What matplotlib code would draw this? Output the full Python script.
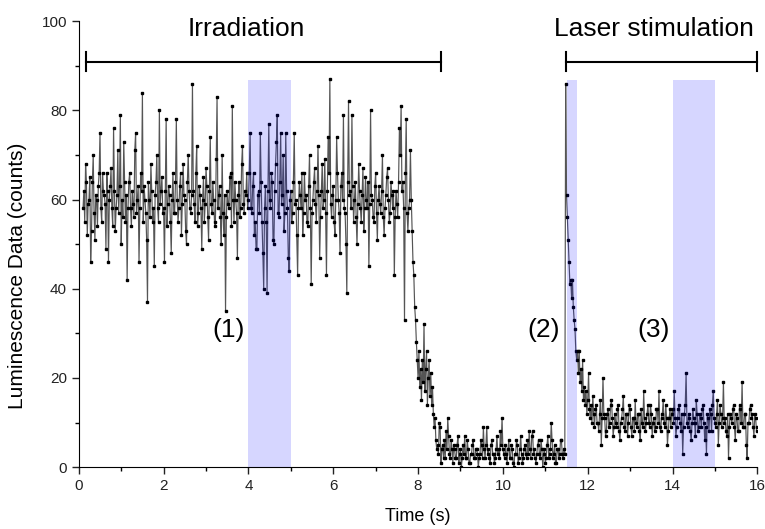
import numpy as np
import matplotlib.pyplot as plt
from matplotlib import font_manager

names = {f.name for f in font_manager.fontManager.ttflist}
narrow = 'Liberation Sans Narrow' if 'Liberation Sans Narrow' in names else 'Liberation Sans'
plt.rcParams['font.family'] = ['Liberation Sans', 'DejaVu Sans']

# sampling grid (s)
t_start = 0.10
dt = 0.02

# counts
irr_a = [58, 62, 55, 68, 64, 52, 59, 60, 65, 46,
         53, 64, 70, 57, 51, 61, 60, 54, 63, 66,
         75, 58, 55, 66, 62, 61, 59, 49, 66, 62,
         46, 60, 63, 67, 58, 54, 76, 62, 53, 58,
         61, 71, 57, 63, 79, 50, 60, 56, 73, 64,
         55, 61, 42, 58, 64, 66, 58, 54, 62, 59,
         56, 71, 75, 57, 60, 63, 46, 58, 66, 62,
         84, 55, 63, 60, 57, 51, 37, 64, 60, 56,
         68, 62, 55, 58, 45, 61, 64, 70, 58, 55,
         80, 59, 62, 65, 57, 58, 46, 62, 78, 54,
         59, 63, 61, 55, 48, 60, 66, 57, 57, 64,
         78, 60, 55, 58, 63, 66, 52, 59, 68, 61,
         60, 53, 50, 64, 70, 62, 58, 57, 61, 86,
         62, 59, 55, 66, 72, 54, 57, 63, 61, 58,
         49, 60, 65, 55, 59, 67, 63, 56, 51, 62,
         74, 59, 57, 64, 60, 55, 54, 69, 83, 58,
         61, 63, 56, 50, 70, 57, 52, 61, 35, 56,
         62, 59, 58, 65, 66, 54, 81, 60, 55, 64,
         60, 57, 47, 61, 64, 56, 58, 68, 72, 59,
         57, 62, 61, 66, 58]
irr_shade = [60, 66, 75, 58, 57, 63, 66, 52, 55, 49,
             49, 61, 62, 57, 75, 64, 55, 48, 40, 58,
             63, 55, 39, 62, 77, 60, 58, 66, 64, 51,
             50, 62, 68, 73, 79, 57, 56, 64, 75, 59,
             61, 70, 53, 57, 75, 62, 58, 47, 44, 60]
irr_b = [62, 55, 57, 64, 75, 59, 60, 52, 43, 58,
         64, 61, 58, 66, 52, 57, 66, 60, 61, 55,
         54, 63, 70, 58, 41, 57, 60, 64, 67, 59,
         55, 62, 72, 61, 47, 56, 62, 68, 58, 60,
         69, 57, 43, 62, 74, 66, 87, 59, 56, 61,
         63, 55, 52, 60, 74, 66, 60, 57, 48, 63,
         66, 60, 79, 58, 57, 50, 39, 64, 82, 61,
         62, 58, 79, 63, 55, 60, 64, 56, 50, 59,
         68, 62, 58, 55, 61, 67, 53, 58, 65, 60,
         58, 64, 45, 59, 80, 61, 60, 56, 55, 63,
         66, 57, 51, 60, 63, 59, 57, 62, 70, 56,
         52, 58, 61, 65, 67, 60, 55, 57, 64, 61,
         58, 62, 43, 56, 62, 59, 56, 64, 76, 70,
         81, 62, 64, 58, 33, 66, 78, 57, 53, 58,
         60]
fall = [71, 60, 53, 46, 43, 36, 33, 28, 24, 20,
        26, 18, 22, 15, 24, 19, 32, 17, 22, 26,
        14, 20, 24, 16, 21, 14, 18, 12, 9, 11,
        6, 4]
dark = [5, 3, 10, 9, 1, 4, 5, 2, 6, 2,
        8, 4, 11, 7, 3, 2, 6, 4, 1, 5,
        4, 2, 2, 5, 7, 1, 3, 4, 0, 2,
        5, 3, 7, 2, 2, 6, 4, 1, 1, 3,
        3, 5, 6, 2, 2, 4, 4, 3, 0, 2,
        3, 6, 5, 2, 9, 4, 2, 5, 9, 3,
        4, 2, 1, 5, 6, 3, 3, 1, 2, 4,
        7, 3, 4, 2, 8, 5, 11, 4, 3, 2,
        5, 3, 1, 4, 6, 2, 2, 5, 4, 1,
        0, 3, 3, 6, 5, 1, 2, 4, 7, 3,
        1, 2, 4, 5, 3, 2, 6, 3, 8, 4,
        2, 7, 8, 3, 4, 2, 1, 3, 5, 6,
        3, 2, 6, 4, 0, 3, 4, 1, 2, 5,
        7, 2, 3, 4, 10, 6, 2, 3, 5, 1,
        1, 4, 4, 2, 3, 6, 6, 3, 2, 4,
        3]
laser = [86, 61, 56, 51, 46, 41, 42, 38, 42, 36,
         33, 31, 26, 24, 26, 21, 26, 19, 22, 17,
         24, 15, 18, 14, 17, 12, 15, 21, 13, 11,
         14, 10, 16, 12]
tail = [9, 13, 14, 10, 10, 8, 12, 15, 5, 11,
        20, 12, 11, 7, 8, 12, 13, 9, 10, 14,
        15, 11, 7, 9, 12, 10, 9, 13, 14, 8,
        6, 10, 11, 13, 16, 9, 8, 12, 12, 7,
        10, 14, 13, 9, 7, 11, 11, 8, 15, 10,
        9, 12, 12, 8, 6, 13, 10, 9, 17, 11,
        8, 10, 12, 14, 10, 9, 14, 12, 7, 10,
        11, 8, 9, 13, 13, 10, 17, 9, 8, 11,
        12, 15, 10, 9, 14, 11, 5, 8, 11, 13,
        9, 12, 13, 10, 17, 11, 7, 9, 11, 13,
        14, 10, 8, 12, 3, 9, 12, 14, 21, 10,
        9, 12, 11, 8, 6, 10, 13, 11, 10, 7,
        15, 12, 8, 9, 12, 11, 9, 13, 14, 10,
        6, 9, 3, 12, 11, 8, 13, 12, 8, 14,
        17, 11, 10, 9, 12, 15, 5, 10, 14, 12,
        9, 11, 19, 10, 11, 8, 7, 12, 2, 9,
        12, 11, 10, 13, 14, 9, 6, 12, 11, 8,
        8, 14, 13, 10, 19, 9, 9, 12, 12, 5,
        2, 10, 10, 13, 14, 11, 12, 9, 7, 12,
        11, 8, 9]

counts = np.array(irr_a + irr_shade + irr_b + fall + dark + laser + tail)
t = t_start + dt * np.arange(len(counts))

# analysed windows and labels
shade_spans = [(4.0, 5.0), (11.5, 11.75), (14.0, 15.0)]
brackets = [(0.17, 8.54, 3.96, 'Irradiation'), (11.49, 16.0, 13.55, 'Laser stimulation')]
marks = [(3.54, '(1)'), (10.97, '(2)'), (13.55, '(3)')]

fig = plt.figure(figsize=(7.65, 5.29), dpi=100)
ax = fig.add_axes([0.103, 0.117, 0.887, 0.843])

ax.plot(t, counts, color='#555555', lw=0.85, marker='s', ms=1.9,
        mfc='black', mec='black', zorder=2)

for a, b in shade_spans:
    ax.axvspan(a, b, ymin=0, ymax=0.868, color='blue', alpha=0.16, lw=0, zorder=3)

for a, b, xc, name in brackets:
    ax.plot([a, b], [90.8, 90.8], color='black', lw=1.5, clip_on=False)
    ax.plot([a, a], [88.8, 93.0], color='black', lw=1.5, clip_on=False)
    ax.plot([b, b], [88.8, 93.0], color='black', lw=1.5, clip_on=False)
    ax.text(xc, 98.2, name, ha='center', va='center', fontsize=19)

for x, s in marks:
    ax.text(x, 30.7, s, ha='center', va='center', fontsize=19)

ax.set_xlim(0, 16)
ax.set_ylim(0, 100)
ax.set_xticks(np.arange(0, 17, 2))
ax.set_xticks(np.arange(1, 16, 2), minor=True)
ax.set_yticks(np.arange(0, 101, 20))
ax.set_yticks(np.arange(10, 100, 20), minor=True)
for sp in ['top', 'right']:
    ax.spines[sp].set_visible(False)
ax.tick_params(which='major', direction='out', length=5, width=1, labelsize=11,
               colors='#222222')
ax.tick_params(which='minor', direction='out', length=3, width=1)
for lab in ax.get_xticklabels() + ax.get_yticklabels():
    lab.set_family(narrow)

ax.set_xlabel('Time (s)', fontsize=13, labelpad=11)
ax.set_ylabel('Luminescence Data (counts)', fontsize=15)
ax.yaxis.set_label_coords(-0.077, 0.43)

fig.savefig('out.png', dpi=100)
